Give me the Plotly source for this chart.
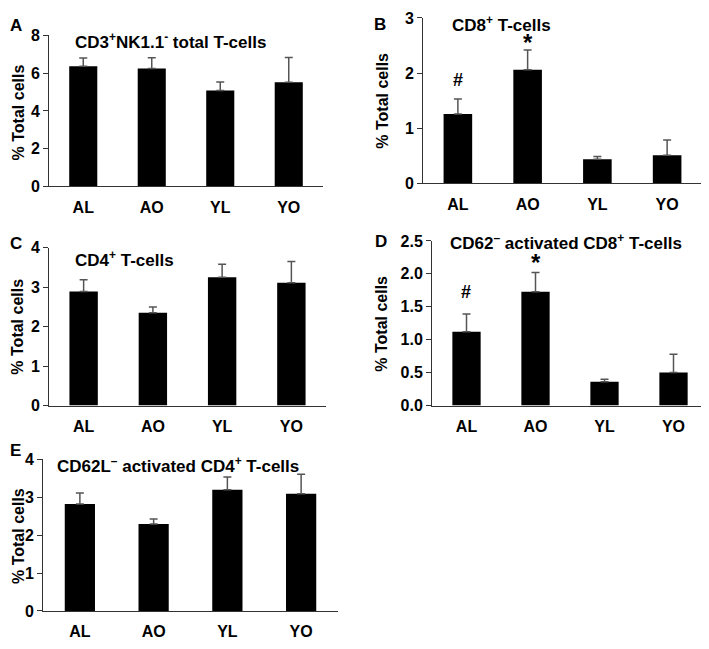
import plotly.graph_objects as go

W, H = 709, 649
OFF = 8  # page body margin offset in the browser

categories = ["AL", "AO", "YL", "YO"]

# Panel A: CD3+NK1.1- total T-cells
a_means = [6.37, 6.25, 5.08, 5.52]
a_sem = [0.43, 0.57, 0.46, 1.31]
# Panel B: CD8+ T-cells
b_means = [1.26, 2.06, 0.44, 0.51]
b_sem = [0.27, 0.36, 0.05, 0.28]
# Panel C: CD4+ T-cells
c_means = [2.89, 2.35, 3.25, 3.11]
c_sem = [0.30, 0.15, 0.33, 0.54]
# Panel D: CD62- activated CD8+ T-cells
d_means = [1.12, 1.73, 0.36, 0.50]
d_sem = [0.27, 0.29, 0.04, 0.28]
# Panel E: CD62L- activated CD4+ T-cells
e_means = [2.82, 2.29, 3.19, 3.09]
e_sem = [0.29, 0.13, 0.34, 0.51]

y_max = [8, 3, 4, 2.5, 4]
y_dtick = [2, 1, 1, 0.5, 1]
y_fmt = ["d", "d", "d", ".1f", "d"]

titles = [
    "CD3<sup>+</sup>NK1.1<sup>-</sup> total T-cells",
    "CD8<sup>+</sup> T-cells",
    "CD4<sup>+</sup> T-cells",
    "CD62<sup>\u2013</sup> activated CD8<sup>+</sup> T-cells",
    "CD62L<sup>\u2013</sup> activated CD4<sup>+</sup> T-cells",
]
letters = ["A", "B", "C", "D", "E"]

# significance marks: (panel index, category, y value, symbol)
marks = [
    (1, "AL", 1.87, "#"), (1, "AO", 2.55, "*"),
    (3, "AL", 1.72, "#"), (3, "AO", 2.18, "*"),
]

# layout geometry in screen pixels: (x0, x1, ytop, ybottom)
boxes = [
    (49, 323, 28, 183),
    (423, 702, 10, 180),
    (49, 326, 246, 408),
    (432, 708, 239, 408),
    (43, 338, 463, 619),
]
title_pos = [(73, 34), (450, 16), (73, 258), (448, 240), (55, 469)]
letter_pos = [(8, 18), (372, 17), (8, 242), (373, 240), (8, 454)]
ytitle_pos = [(18, 107), (383, 95), (18, 327), (382, 324), (18, 542)]


def px(x):
    return (x - OFF) / W


def py(y):
    return 1 - (y - OFF) / H


FONT = "Liberation Sans, Arial, sans-serif"
AX = "#333333"

means = [a_means, b_means, c_means, d_means, e_means]
sems = [a_sem, b_sem, c_sem, d_sem, e_sem]

fig = go.Figure()
annotations = []
layout = {}
for i in range(5):
    sfx = "" if i == 0 else str(i + 1)
    fig.add_trace(go.Bar(
        x=categories, y=means[i],
        xaxis="x" + sfx, yaxis="y" + sfx,
        width=0.41,
        marker=dict(color="black", line=dict(width=0)),
        error_y=dict(type="data", symmetric=False, array=sems[i],
                     arrayminus=[0] * 4, color="#555555", thickness=1.5, width=4),
        showlegend=False,
    ))
    x0, x1, yt, yb = boxes[i]
    layout["xaxis" + sfx] = dict(
        domain=[px(x0), min(px(x1), 1)], anchor="y" + sfx,
        range=[-0.5, 3.5], showline=True, linecolor=AX, linewidth=1,
        ticks="", showgrid=False, zeroline=False,
        tickfont=dict(family=FONT, size=16, color="black", weight="bold"),
        ticklabelstandoff=6, fixedrange=True,
    )
    layout["yaxis" + sfx] = dict(
        domain=[py(yb), py(yt)], anchor="x" + sfx,
        range=[0, y_max[i]], dtick=y_dtick[i], tick0=0, tickformat=y_fmt[i],
        showline=True, linecolor=AX, linewidth=1,
        ticks="outside", ticklen=5, tickcolor=AX, tickwidth=1,
        showgrid=False, zeroline=False,
        tickfont=dict(family=FONT, size=16, color="black", weight="bold"),
        fixedrange=True,
    )
    tx, ty = title_pos[i]
    annotations.append(dict(text="<b>" + titles[i] + "</b>", xref="paper", yref="paper",
                            x=px(tx), y=py(ty), xanchor="left", yanchor="middle",
                            showarrow=False, font=dict(family=FONT, size=17, color="black")))
    lx, ly = letter_pos[i]
    annotations.append(dict(text="<b>" + letters[i] + "</b>", xref="paper", yref="paper",
                            x=px(lx), y=py(ly), xanchor="left", yanchor="middle",
                            showarrow=False, font=dict(family=FONT, size=17, color="black")))
    yx, yy = ytitle_pos[i]
    annotations.append(dict(text="<b>% Total cells</b>", xref="paper", yref="paper",
                            x=px(yx), y=py(yy), xanchor="center", yanchor="middle",
                            textangle=-90, showarrow=False,
                            font=dict(family=FONT, size=16, color="black")))

for pi, cat, yv, sym in marks:
    sfx = "" if pi == 0 else str(pi + 1)
    annotations.append(dict(text="<b>" + sym + "</b>", xref="x" + sfx, yref="y" + sfx,
                            x=cat, y=yv, xanchor="center", yanchor="middle",
                            showarrow=False,
                            font=dict(family=FONT, size=24 if sym == "*" else 18, color="black")))

fig.update_layout(
    width=W, height=H,
    margin=dict(l=0, r=0, t=0, b=0),
    paper_bgcolor="white", plot_bgcolor="white",
    annotations=annotations,
    **layout,
)

fig.write_html("out.html", config={"displayModeBar": False})
